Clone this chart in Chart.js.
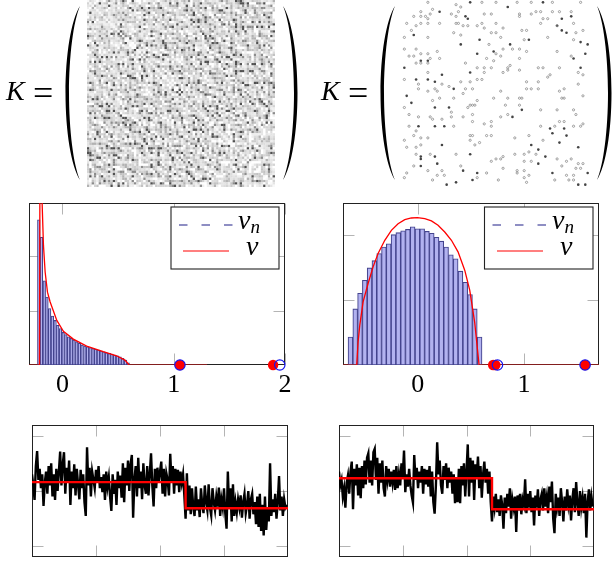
<!DOCTYPE html>
<html>
<head>
<meta charset="utf-8">
<script src="https://cdn.jsdelivr.net/npm/chart.js@4/dist/chart.umd.min.js"></script>
<style>
html, body { margin: 0; background: #fff; }
body { width: 613px; height: 561px; position: relative; overflow: hidden; }
canvas { position: absolute; }
svg { position: absolute; left: 0; top: 0; pointer-events: none; }
.mat { filter: blur(0.35px); }
text { font-family: "Liberation Serif", serif; fill: #000; }
</style>
</head>
<body>
<canvas id="matDense" class="mat" width="188" height="187" style="left:87px;top:0"></canvas>
<canvas id="matSparse" class="mat" width="188" height="187" style="left:402px;top:0"></canvas>
<canvas id="histLeft" width="280" height="200" style="left:20px;top:200px"></canvas>
<canvas id="histRight" width="270" height="200" style="left:334px;top:200px"></canvas>
<canvas id="noiseA" width="258" height="132" style="left:31px;top:425px"></canvas>
<canvas id="noiseB" width="257" height="132" style="left:338px;top:425px"></canvas>

<svg width="613" height="561">
  <g id="parens">
    <path d="M80 6C71 20 65.5 55 65.5 93C65.5 131 71 166 80 180C73.5 165 69 130 69 93C69 56 73.5 21 80 6Z"/>
    <path transform="translate(363 0) scale(-1 1)" d="M80 6C71 20 65.5 55 65.5 93C65.5 131 71 166 80 180C73.5 165 69 130 69 93C69 56 73.5 21 80 6Z"/>
    <path transform="translate(315 0)" d="M80 6C71 20 65.5 55 65.5 93C65.5 131 71 166 80 180C73.5 165 69 130 69 93C69 56 73.5 21 80 6Z"/>
    <path transform="translate(677 0) scale(-1 1)" d="M80 6C71 20 65.5 55 65.5 93C65.5 131 71 166 80 180C73.5 165 69 130 69 93C69 56 73.5 21 80 6Z"/>
  </g>
  <text x="6" y="100" font-size="28" font-style="italic">K</text>
  <text x="33" y="105" font-size="36">=</text>
  <text x="321" y="100" font-size="28" font-style="italic">K</text>
  <text x="348" y="105" font-size="36">=</text>

  <rect x="171" y="207" width="108" height="62" fill="#fff" stroke="#222" stroke-width="1.1"/>
  <line x1="179" y1="225" x2="233" y2="225" stroke="#6a6ab0" stroke-width="1.4" stroke-dasharray="8.5 14"/>
  <line x1="183" y1="251" x2="229" y2="251" stroke="#f00" stroke-width="1.2"/>
  <text x="238" y="229" font-size="28" font-style="italic">ν<tspan dy="4" font-size="19">n</tspan></text>
  <text x="246" y="255" font-size="28" font-style="italic">ν</text>

  <rect x="484.5" y="207" width="108.5" height="62" fill="#fff" stroke="#222" stroke-width="1.1"/>
  <line x1="492.5" y1="225" x2="546.5" y2="225" stroke="#6a6ab0" stroke-width="1.4" stroke-dasharray="8.5 14"/>
  <line x1="497" y1="251" x2="543" y2="251" stroke="#f00" stroke-width="1.2"/>
  <text x="552" y="229" font-size="28" font-style="italic">ν<tspan dy="4" font-size="19">n</tspan></text>
  <text x="560" y="255" font-size="28" font-style="italic">ν</text>
</svg>

<script>
// dense kernel, one triangle listed along its anti-diagonals. Cells are too small to read
// one by one, so these digits only estimate the texture and grey mix of the picture
var denseDigits = [
"0425130062 2719340213 5522086143 3027351194 2264300531 8123476022 3150942613 1377205241",
"102643381 5004227631 1945023362 2160738412 3305194226 7210343058 2416630129 3548102",
"03751204 4296013358 1272408613 3950122746 1328045037 2614193502 8331460227 5103941",
"1046223 1805362794 2031156428 0739213645 0228417361 5092343106 1724850336 2291047",
"022194 6303581247 0916225340 7431028652 1193074426 3508216139 4072351680 3241125",
"10537 2249106832 3415720196 3082746015 2363910528 4470163235 9012846371 2506134",
"0312 7450128936 1024563382 2709146035 8213427096 1345260382 7101953426 3068215",
"105 3921640278 3516042719 3385201647 0392615148 2036731924 0152863470 2319056",
"02 4163097253 1840326915 2470538136 2109743265 0814326079 3152408631 5297014",
"1 3508241963 2047135286 0923146375 1028564093 3172406519 2368041725 9103462",
"0271936045 3182064517 2906381423 5071246983 1305827164 2093451670 2381940",
"130625184 2709341563 0821457936 2140385267 1934062815 3702946153 2086417",
"03481926 5310742068 3591204673 1860352419 2704163085 9213574026 1438260",
"1052374 1968023546 2701893415 6032174825 1397046253 0812364179 2053816",
"042619 3507128436 0294615873 2103564092 7318420565 1293074381 6240519",
"10385 2714069231 8350462917 3601245838 0972153460 3281749052 1634270",
"0327 4106953182 2470368519 1240936752 3816045291 7036142853 2097316",
"105 6283041792 3158407263 0951324786 2103695428 1730462915 3082471",
"02 1749360258 4013726951 2360847152 9083164270 3512896043 1627350",
"1 4035926187 2306451798 0324162953 7801425063 1938260741 5302869",
"0361820475 1293064827 3510429638 2170953481 2603715049 3261807",
"104726395 0281643570 2938104562 7319025468 1302874635 2091753",
"03152948 3602175039 1428063517 2946032581 3704912650 1832064",
"1028463 7103956248 2051763049 2381640735 1920384176 5032948",
"046135 2907138460 3251894037 1620457392 8013625904 2713860",
"10782 3640159283 1704263859 0312748165 2930514072 3861024",
"0315 9260483172 3604912583 7102463095 1827340651 2930714",
"102 4738160295 3481026974 3150682741 3905126840 1372950",
"03 6192047352 8160493725 1032685407 2194360718 2530146",
"1 2850643192 0371546028 9130472685 3017294156 0382647",
"0473160258 3919204637 1582043719 2640518273 0916324",
"105294738 1206385014 2793168045 3720961428 5031762",
"03681427 2905136082 4371250946 1083726194 3502681",
"1027539 4160283795 0314628071 5932046181 7203456",
"041326 8502947136 2085316492 0731864025 3190472",
"10695 2318047260 3951428630 7120549381 2064735",
"0328 1740569213 8064312795 0263181470 5392016",
"103 7526048139 2607351840 9213064728 1504362",
"04 2913680472 1350726948 1302485169 2730541",
"1 5038142769 0421863057 2914630185 7203946",
"0261947035 1382064971 3520846113 9270453",
"103857264 9012476385 1602394758 1340269",
"04172639 2508134760 9312064527 3814025",
"1029364 8130257946 0381524076 1392850",
"036518 2904761302 8451309627 2150384",
"10472 6395081274 1630295748 3016921",
"0381 2750493168 0246173950 2847031",
"102 6947301852 3179024638 5102746",
"04 1385260794 1236058491 3702615",
"1 3729140568 2031486792 0513847",
"0264805139 2740631958 1320476",
"103762915 4082361704 9253018",
"04518263 9701254830 6142937",
"1029473 6180352946 1703825",
"036182 5040917263 8431052",
"10394 7216805342 9061738",
"0471 2835960142 3760815",
"102 8354071692 4013726",
"03 6147209358 1260437",
"1 4902638150 3724196",
"0372815046 9213608",
"104693270 1850324",
"02751483 6093127",
"1038264 2705913",
"041957 3620184",
"10263 8147950",
"0384 1627305",
"105 9240368",
"02 7316480",
"1 4082951",
"036274 10495 0271 103 04 1 3 0 2 0"
].join('').replace(/ /g, '');
// digit -> grey
var denseGreys = [255, 238, 228, 220, 212, 204, 194, 178, 140, 80];

// sparse kernel, non zero cells [col, row]
var lightCells = [[11,1],[34,1],[49,1],[55,1],[64,1],[76,1],[23,2],[25,3],[40,1],[13,4],[8,5],[12,6],[21,6],[24,5],[35,6],[38,6],[50,6],[57,5],[59,5],[64,5],[67,5],[72,5],[55,6],
[5,7],[8,7],[10,7],[11,8],[23,7],[50,7],[60,8],[62,8],[2,10],[8,10],[6,11],[11,10],[16,10],[23,10],[24,10],[26,11],[28,11],[32,11],[34,10],[35,12],[40,10],[59,10],[66,11],[73,10],
[4,13],[77,13],[51,13],[53,13],[43,12],[38,14],[40,14],[22,14],[25,15],[74,14],[1,16],[11,16],[42,16],[52,17],[62,16],[73,17],[37,19],[1,21],[6,21],[43,21],[47,21],[50,21],[53,22],[66,22],[11,23],[15,22],
[3,24],[5,24],[8,23],[12,25],[16,25],[40,23],[42,24],[72,24],[36,25],[6,27],[8,27],[11,27],[27,27],[50,25],[46,28],[39,26],[45,29],[45,30],[58,29],[60,29],[67,29],[32,29],[35,29],[38,29],[50,30],
[11,31],[35,31],[43,31],[75,31],[77,32],[62,33],[63,32],[1,34],[25,35],[29,35],[32,34],[34,34],[53,35],[58,35],[7,36],[17,36],[20,37],[75,36],[7,38],[11,39],[14,38],[15,39],[27,38],[30,38],[42,39],[53,38],[55,38],[58,38],[69,38],[67,39],
[22,42],[26,40],[39,42],[45,42],[50,42],[51,42],[68,42],[69,42],[77,41],[13,43],[16,42],[32,43],[1,46],[29,45],[30,45],[31,45],[44,45],[50,45],[28,46],[21,48],[59,47],[66,47],[73,47],
[3,49],[7,50],[12,50],[26,50],[30,49],[42,50],[45,49],[74,49],[13,51],[17,51],[21,50],[30,52],[35,53],[38,52],[3,54],[38,54],[22,54],[59,54],[65,54],[67,52],[69,52],[73,54],[76,54],[77,53],
[6,56],[29,58],[30,58],[36,58],[5,58],[38,58],[8,59],[11,59],[48,59],[54,58],[29,60],[1,60],[33,61],[31,62],[60,60],[8,62],[2,63],[6,63],[54,65],[6,66],[23,66],[12,66],[48,66],[52,66],[57,66],
[42,68],[43,67],[38,69],[40,68],[52,69],[55,69],[66,68],[70,69],[72,68],[75,70],[77,70],[5,71],[25,71],[68,71],[43,72],[49,73],[52,73],[74,72],[76,72],[11,73],[17,73],[2,74],[49,74],[15,75],[54,75],[36,74],
[1,76],[13,77],[18,75],[32,76],[41,77],[52,76],[70,75],[73,75],[71,77],[73,77],[53,78],[65,77]];
var darkCells = [[29,1],[45,3],[60,1],[16,5],[27,7],[28,8],[68,8],[72,7],[68,13],[70,14],[66,11],[5,15],[54,17],[33,17],[25,19],[46,19],[76,18],[79,19],[39,22],[78,23],[73,25],[8,26],[11,26],[32,23],
[1,29],[76,29],[17,32],[29,31],[6,34],[11,34],[14,35],[22,38],[2,41],[4,44],[14,46],[20,46],[51,47],[47,50],[18,54],[14,54],[63,55],[69,55],[7,54],[17,62],[67,61],[70,58],[64,57],[75,63],[55,62],[58,64],
[8,67],[8,68],[14,67],[15,70],[8,71],[29,66],[61,67],[58,70],[26,73],[19,79],[23,78],[30,77],[32,74],[64,74],[79,74],[75,79],[78,79]];

// histogram and density, left panel
var binsLeft = [-.212,-.188,-.163,-.139,-.115,-.090,-.066,-.042,-.017,.007,.031,.056,.080,.104,.129,.153,.177,.202,.226,.250,.275,.299,.323,.348,.372,.396,.421,.445,.469,.494,.518,.542,.567,.591];
var countsLeft = [2.67,2.35,1.55,1.25,1.04,.90,.82,.73,.67,.60,.56,.52,.49,.46,.43,.40,.37,.35,.335,.32,.305,.29,.275,.256,.244,.226,.213,.20,.183,.17,.152,.122,.09,.04];
var curveXLeft = [-.30,-.206,-.2,-.185,-.182,-.17,-.155,-.134,-.11,-.05,.009,.098,.218,.367,.487,.562,.6,1.3];
var curveYLeft = [0,0,5,5,2.97,2.2,1.71,1.34,1.16,.82,.62,.476,.348,.244,.17,.09,0,0];
var redEigLeft = [1.056,1.893];
var blueEigLeft = [1.056,1.953];

// histogram and density, right panel
var binsRight = [-.633,-.588,-.543,-.498,-.453,-.408,-.363,-.318,-.273,-.228,-.183,-.138,-.093,-.048,-.003,.042,.087,.132,.177,.222,.267,.312,.357,.402,.447,.492,.537,.582];
var countsRight = [.43,.86,1.10,1.30,1.49,1.60,1.71,1.81,1.86,2.0,2.03,2.06,2.08,2.12,2.09,2.09,2.05,2.02,1.96,1.90,1.81,1.69,1.63,1.44,1.27,1.08,.86,.43];
var curveXRight = [-.703,-.574,-.561,-.545,-.514,-.467,-.42,-.373,-.31,-.248,-.185,-.122,-.06,-.003,.066,.129,.191,.254,.317,.379,.442,.489,.536,.577,1.705];
var curveYRight = [0,0,.357,.612,.969,1.25,1.505,1.71,1.913,2.066,2.168,2.23,2.255,2.26,2.245,2.21,2.143,2.04,1.913,1.735,1.454,1.148,.65,0,0];
var redEigRight = [.709,.73,1.574];
var blueEigRight = [.75,1.574];

// noisy signals and their steps
var signalA = [30,10,-16,45,72,20,40,5,30,-27,15,35,-5,45,10,50,-10,30,-16,40,0,35,71,10,48,70,-5,42,15,55,-25,35,5,48,-8,40,12,-15,38,5,30,-20,-45,79,10,42,-10,35,20,5,38,15,45,5,25,-2,30,-16,35,8,25,-10,-36,30,-5,20,-25,35,5,28,-12,50,-20,42,10,55,0,48,65,-48,20,45,-10,60,5,35,-15,50,10,-5,45,-8,30,68,10,-28,40,5,42,15,35,53,-5,40,-10,32,20,-8,67,15,45,-5,40,10,38,-2,35,15,30,-8,-50,32,-35,10,-42,5,-30,-45,8,-35,-15,-47,5,-25,-40,10,-20,-35,12,-30,-44,5,-20,-35,-10,-28,6,-45,-15,-30,5,-40,-68,35,-30,5,-55,12,-45,-20,-38,-15,-30,-8,-48,-20,-5,-40,-25,0,-50,-15,-5,-42,-20,-60,-10,-65,-5,-72,-25,-80,-10,-70,-30,-55,50,-45,-15,-38,-5,-50,-20,27,-35,-10,-45,-15,-30,-25];
var signalB = [35,10,20,-10,5,-30,15,28,-5,35,53,-33,40,10,48,-8,42,-13,45,5,55,12,60,68,15,55,10,70,76,20,60,-5,50,15,55,5,-10,45,20,40,8,35,15,38,2,45,5,30,10,50,25,73,-2,30,8,40,10,-8,-21,65,20,42,5,35,15,45,-5,40,12,38,8,45,-10,35,-20,-41,10,88,30,55,10,-5,45,20,50,5,42,15,35,-5,30,-22,25,-20,40,-22,45,10,50,-10,35,84,-10,60,15,55,-16,48,25,62,5,45,-12,30,53,15,40,-5,35,-20,-55,-10,-30,-5,-38,-15,-45,-8,-25,-68,-12,-40,-5,-28,5,-50,-15,-30,-10,-74,-8,-35,-5,-42,-15,-25,21,-40,-5,-30,0,-38,-12,-62,-8,-30,3,-45,-15,-5,-35,5,-28,-10,-40,8,-20,17,-50,-76,-5,-30,-12,-45,5,-20,-55,-10,-35,3,-25,-8,-53,-15,5,-38,16,-22,-45,0,-30,-12,-40,-5,-84,-20,3,-35,-10,-28];
var stepXA = [0,120,120,200];
var stepYA = [16,16,-31,-31];
var stepXB = [0,120,120,200];
var stepYB = [23,23,-33,-33];

var frameTicks = {
    id: 'frameTicks',
    beforeDatasetsDraw: function (chart, args, opts) {
        var a = chart.chartArea, ctx = chart.ctx;
        if (!opts.xTicks) return;
        var left = Math.round(a.left) + .5, right = Math.round(a.right) - .5;
        var top = Math.round(a.top) + .5, bottom = Math.round(a.bottom) - .5;
        ctx.save();
        ctx.strokeStyle = '#b4b4b4';
        ctx.lineWidth = 1;
        ctx.beginPath();
        opts.xTicks.forEach(function (v) {
            var p = Math.round(chart.scales.x.getPixelForValue(v)) + .5;
            ctx.moveTo(p, top); ctx.lineTo(p, top + 11);
            ctx.moveTo(p, bottom); ctx.lineTo(p, bottom - 11);
        });
        opts.yTicks.forEach(function (v) {
            var p = Math.round(chart.scales.y.getPixelForValue(v)) + .5;
            ctx.moveTo(left, p); ctx.lineTo(left + 11, p);
            ctx.moveTo(right, p); ctx.lineTo(right - 11, p);
        });
        ctx.stroke();
        ctx.strokeStyle = '#222';
        ctx.strokeRect(left, top, right - left, bottom - top);
        ctx.restore();
    }
};
Chart.register(frameTicks);
Chart.defaults.animation = false;
Chart.defaults.responsive = false;
Chart.defaults.devicePixelRatio = 1;
Chart.defaults.layout.autoPadding = false;
Chart.defaults.plugins.legend.display = false;
Chart.defaults.plugins.tooltip.enabled = false;

function toPoints(xs, ys) {
    return xs.map(function (x, i) { return {x: x, y: ys[i]}; });
}

function matrixScales() {
    return {
        x: {type: 'linear', display: false, min: 0, max: 80},
        y: {type: 'linear', display: false, min: 0, max: 80, reverse: true}
    };
}

// dense kernel: walk the anti-diagonals of one triangle and mirror it, diagonal stays pale
var densePoints = [], denseColors = [], pos = 0;
for (var d = 0; d <= 158; d++) {
    for (var i = Math.max(0, d - 79); i <= d - i; i++) {
        var j = d - i;
        var g = i == j ? 248 : denseGreys[+denseDigits[pos % denseDigits.length]];
        var c = 'rgb(' + g + ',' + g + ',' + g + ')';
        pos++;
        densePoints.push({x: j + .5, y: i + .5});
        denseColors.push(c);
        if (j != i) {
            densePoints.push({x: i + .5, y: j + .5});
            denseColors.push(c);
        }
    }
}

new Chart(document.getElementById('matDense'), {
    type: 'scatter',
    data: {datasets: [{data: densePoints, pointStyle: 'rect', pointRadius: 1.75, pointBorderWidth: 0, backgroundColor: denseColors}]},
    options: {scales: matrixScales(), layout: {padding: 0}}
});

new Chart(document.getElementById('matSparse'), {
    type: 'scatter',
    data: {datasets: [
        {data: lightCells.map(function (c) { return {x: c[0], y: c[1]}; }), pointRadius: 1.1, borderColor: '#8a8a8a', borderWidth: .8, backgroundColor: 'rgba(255,255,255,0)'},
        {data: darkCells.map(function (c) { return {x: c[0], y: c[1]}; }), pointRadius: 1.3, borderWidth: 0, backgroundColor: '#444'}
    ]},
    options: {scales: matrixScales(), layout: {padding: 0}}
});

function histChart(id, bins, counts, curveX, curveY, redEig, blueEig, xMin, xMax, yMax, xTicks, padding) {
    return new Chart(document.getElementById(id), {
        type: 'bar',
        data: {datasets: [
            {type: 'bar', data: toPoints(bins, counts), backgroundColor: '#b2b2f0', borderColor: '#44448e', borderWidth: 1.1, borderSkipped: false, categoryPercentage: 1, barPercentage: 1, order: 4},
            {type: 'scatter', showLine: true, data: toPoints(curveX, curveY), borderColor: '#f00', borderWidth: 1.3, pointRadius: 0, order: 3,
                segment: {borderColor: function (c) { return c.p0.parsed.y === 0 && c.p1.parsed.y === 0 ? '#a51e1e' : '#f00'; }}},
            {type: 'scatter', data: redEig.map(function (x) { return {x: x, y: 0}; }), pointRadius: 5.2, backgroundColor: '#f00', borderWidth: 0, clip: false, order: 2},
            {type: 'scatter', data: blueEig.map(function (x) { return {x: x, y: 0}; }), pointRadius: 5.2, backgroundColor: 'rgba(0,0,0,0)', borderColor: '#1414f0', borderWidth: 1.2, clip: false, order: 1}
        ]},
        options: {
            layout: {padding: padding},
            plugins: {frameTicks: {xTicks: xTicks, yTicks: [1, 2]}},
            scales: {
                x: {
                    type: 'linear', min: xMin, max: xMax, offset: false,
                    grid: {display: false, drawTicks: false}, border: {display: false},
                    afterBuildTicks: function (s) { s.ticks = xTicks.map(function (v) { return {value: v}; }); },
                    afterFit: function (s) { s.height = 35; },
                    ticks: {autoSkip: false, maxRotation: 0, padding: 5, color: '#000', font: {family: '"Liberation Serif", serif', size: 26}}
                },
                y: {type: 'linear', display: false, min: 0, max: yMax}
            }
        }
    });
}

histChart('histLeft', binsLeft, countsLeft, curveXLeft, curveYLeft, redEigLeft, blueEigLeft, -.30, 2, 2.98, [0, 1, 2], {left: 9, right: 15, top: 3, bottom: 0});
histChart('histRight', binsRight, countsRight, curveXRight, curveYRight, redEigRight, blueEigRight, -.703, 1.705, 2.485, [0, 1], {left: 9, right: 5, top: 3, bottom: 0});

function signalChart(id, signal, stepX, stepY) {
    return new Chart(document.getElementById(id), {
        type: 'scatter',
        data: {datasets: [
            {data: toPoints(signal.map(function (v, i) { return i; }), signal), showLine: true, borderColor: '#000', borderWidth: 2.4, pointRadius: 0, order: 2},
            {data: toPoints(stepX, stepY), showLine: true, borderColor: '#f00', borderWidth: 2.4, pointRadius: 0, order: 1}
        ]},
        options: {
            layout: {padding: {left: 1, right: 1, top: 0, bottom: 0}},
            plugins: {frameTicks: {xTicks: [50, 100, 150], yTicks: [-100, 0, 100]}},
            scales: {
                x: {type: 'linear', display: false, min: 0, max: 200},
                y: {type: 'linear', display: false, min: -119, max: 119}
            }
        }
    });
}

signalChart('noiseA', signalA, stepXA, stepYA);
signalChart('noiseB', signalB, stepXB, stepYB);
</script>
</body>
</html>
